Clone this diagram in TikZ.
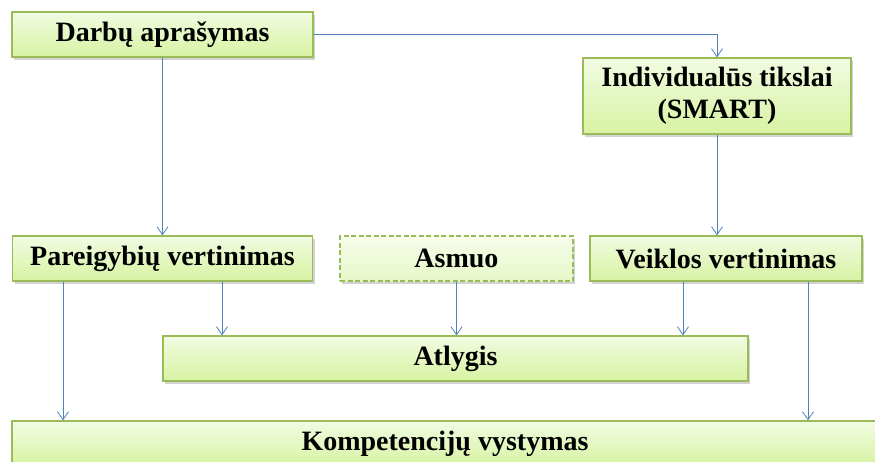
\documentclass[tikz,border=0pt]{standalone}
\usepackage{fontspec}
\setmainfont{Liberation Serif}
\usetikzlibrary{arrows.meta,shadows}
\definecolor{boxline}{HTML}{9BBB59}
\definecolor{boxtop}{HTML}{F2FBE2}
\definecolor{boxbot}{HTML}{D7F3A2}
\definecolor{linkblue}{HTML}{4F81BD}
\tikzset{
  box/.style={draw=boxline, line width=1.2pt, top color=boxtop, bottom color=boxbot,
    drop shadow={shadow xshift=2pt, shadow yshift=-2.5pt, opacity=0.35},
    inner sep=0pt, align=center, font=\fontsize{28}{32}\selectfont\bfseries},
  link/.style={draw=linkblue, line width=0.8pt, -{Straight Barb[length=8pt,width=11pt]}}
}
\begin{document}
\begin{tikzpicture}[x=1pt,y=-1pt]
    \clip (0,0) rectangle (875,461);
    \node[box, minimum width=301pt, minimum height=45pt] (darbai) at (162.5,34.5) {Darbų aprašymas};
    \node[box, minimum width=268pt, minimum height=76pt] (tikslai) at (717,96) {Individualūs tikslai\\(SMART)};
    \node[box, minimum width=300pt, minimum height=45pt] (pareigybes) at (162.5,258.5) {Pareigybių vertinimas};
    \node[box, dash pattern=on 5pt off 2.5pt, top color=boxtop!70, bottom color=boxbot!60, minimum width=233pt, minimum height=45pt] (asmuo) at (456.5,258.5) {Asmuo};
    \node[box, minimum width=272pt, minimum height=45pt] (veikla) at (726,258.5) {Veiklos vertinimas};
    \node[box, minimum width=585pt, minimum height=45pt] (atlygis) at (455.5,358.5) {Atlygis};
    \node[box, minimum width=866pt, minimum height=45pt] (kompetencijos) at (445,443.5) {Kompetencijų vystymas};
    \draw[link] (darbai.east) -| (tikslai.north);
    \draw[link] (darbai.south) -- (pareigybes.north);
    \draw[link] (tikslai.south) -- (tikslai.south |- veikla.north);
    \draw[link] (pareigybes.south -| 63,0) -- (kompetencijos.north -| 63,0);
    \draw[link] (pareigybes.south -| 222,0) -- (atlygis.north -| 222,0);
    \draw[link] (asmuo.south) -- (asmuo.south |- atlygis.north);
    \draw[link] (veikla.south -| 683,0) -- (atlygis.north -| 683,0);
    \draw[link] (veikla.south -| 808,0) -- (kompetencijos.north -| 808,0);
\end{tikzpicture}
\end{document}
